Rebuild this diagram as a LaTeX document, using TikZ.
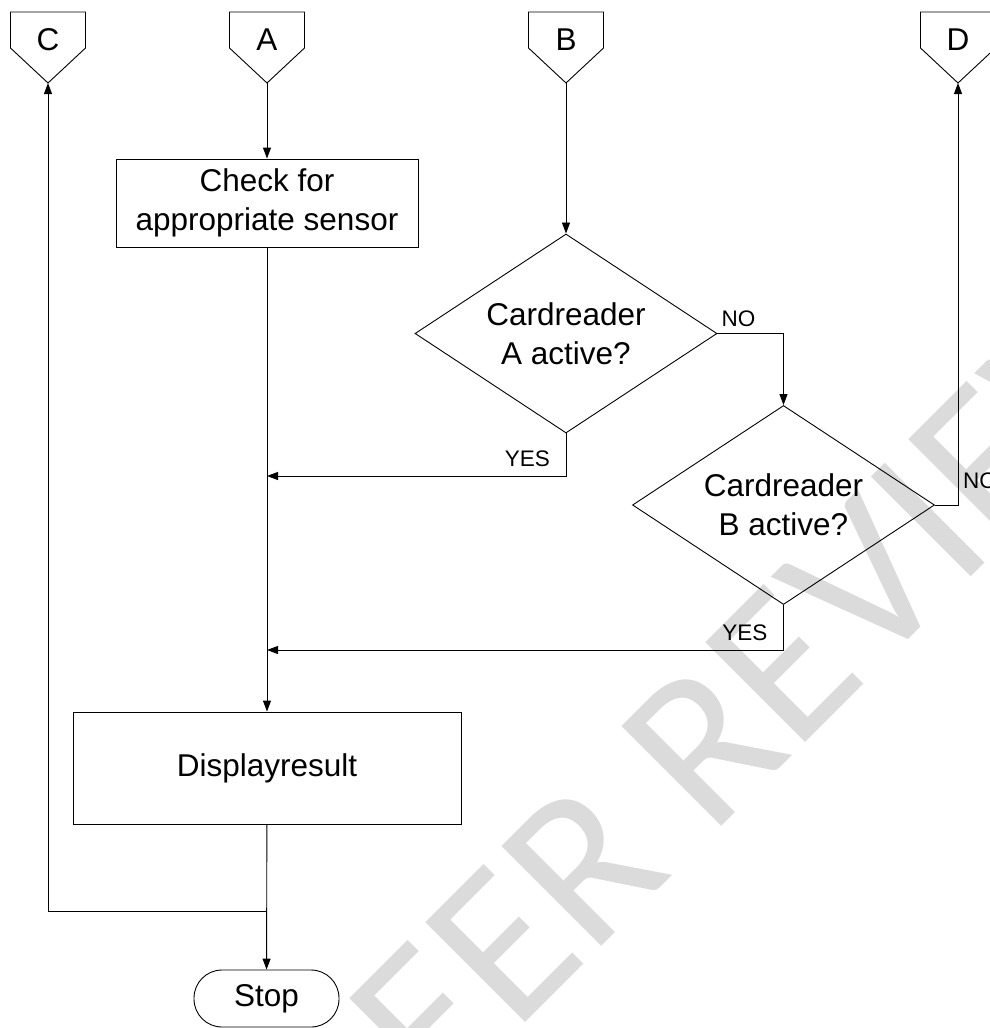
\documentclass[tikz,border=0pt]{standalone}
\usepackage{fontspec}
\setmainfont{Liberation Sans}
\newfontfamily\wmfont{Carlito}
\usepackage{tikz}
\usetikzlibrary{arrows.meta, shapes.geometric}

% off-page connector: name, x, letter
\newcommand{\offpage}[3]{%
  \draw[outl] (#2-37.5,12) -- (#2+37.5,12) -- (#2+37.5,48) -- (#2,83) -- (#2-37.5,48) -- cycle;
  \node[txt, anchor=base] (#1) at (#2,50) {#3};
  \coordinate (#1-tip) at (#2,83);
}

\begin{document}
\begin{tikzpicture}[
    x=1pt, y=-1pt,
    outl/.style={draw=black, line width=0.9pt},
    txt/.style={font=\fontsize{31.5}{39}\selectfont, align=center, inner sep=0pt},
    lbl/.style={font=\fontsize{22.5}{26}\selectfont, inner sep=0pt},
    box/.style={rectangle, outl, txt},
    dec/.style={diamond, outl, txt, aspect=1.53, minimum width=302pt, minimum height=199pt},
    term/.style={rectangle, outl, txt, rounded corners=28pt, minimum width=145pt, minimum height=57pt},
    arr/.style={outl, -{Triangle[length=11pt, width=8pt]}},
    wm/.style={font=\wmfont\fontsize{220}{220}\selectfont, text=black!14, inner sep=0pt, rotate=45, anchor=base west}
]
\useasboundingbox (0,0) rectangle (990,1028);

% watermark
\node[wm] (wmark) at (358,1190) {PEER REVIEW};

\offpage{C}{48}{C}
\offpage{A}{267}{A}
\offpage{B}{566}{B}
\offpage{D}{958}{D}

\node[box, minimum width=302pt, minimum height=88pt] (chk) at (267,203) {Check for\\appropriate sensor};
\node[dec] (dA) at (566,333.5) {Cardreader\\A active?};
\node[dec] (dB) at (783.5,505) {Cardreader\\B active?};
\node[box, minimum width=388pt, minimum height=112pt] (disp) at (267,768) {Displayresult};
\node[term] (stop) at (266.5,998.5) {Stop};

\coordinate (jA) at (267,476);
\coordinate (jB) at (267,650);
\coordinate (jC) at (267,911);
\coordinate (cA) at (dA.south |- jA);
\coordinate (cB) at (dB.south |- jB);
\coordinate (cD) at (D-tip |- dB.east);

\draw[arr] (A-tip) -- (chk);
\draw[arr] (B-tip) -- (dA);
\draw[arr] (dA.east) -| (dB.north);
\draw[arr] (dA.south) |- (jA);
\draw[arr] (dB.south) |- (jB);
\draw[arr] (dB.east) -| (D-tip);
\draw[arr] (chk) -- (disp);
\draw[arr] (disp) -- (stop);
\draw[arr] (jC) -| (C-tip);

\node[lbl, anchor=base west] (noA) at ([xshift=4pt, yshift=7pt]dA.east) {NO};
\node[lbl, anchor=base east] (yesA) at ([xshift=-16pt, yshift=10pt]cA) {YES};
\node[lbl, anchor=base east] (yesB) at ([xshift=-16pt, yshift=10pt]cB) {YES};
\node[lbl, anchor=base west] (noB) at ([xshift=5pt, yshift=17pt]cD) {NO};
\end{tikzpicture}
\end{document}
